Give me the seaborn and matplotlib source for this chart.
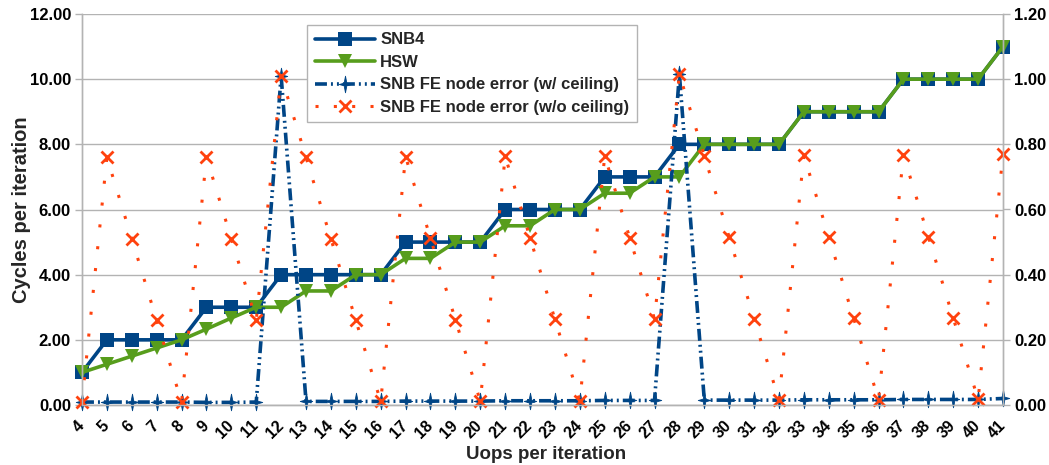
import matplotlib
matplotlib.use("Agg")
import matplotlib.pyplot as plt
import seaborn as sns
import pandas as pd
from matplotlib.lines import Line2D
from matplotlib.path import Path

# ---------------- data ----------------
uops = list(range(4, 42))
snb4 = [1, 2, 2, 2, 2, 3, 3, 3, 4, 4, 4, 4, 4, 5, 5, 5, 5, 6, 6, 6, 6, 7, 7, 7,
        8, 8, 8, 8, 8, 9, 9, 9, 9, 10, 10, 10, 10, 11]
hsw = [1, 1.25, 1.5, 1.75, 2, 2.33, 2.67, 3, 3, 3.5, 3.5, 4, 4, 4.5, 4.5, 5, 5,
       5.5, 5.5, 6, 6, 6.5, 6.5, 7, 7, 8, 8, 8, 8, 9, 9, 9, 9, 10, 10, 10, 10, 11]
err_ceil = [0.009, 0.009, 0.009, 0.009, 0.009, 0.008, 0.008, 0.009, 1.010,
            0.011, 0.011, 0.011, 0.011, 0.012, 0.012, 0.012, 0.012,
            0.013, 0.013, 0.013, 0.013, 0.014, 0.014, 0.014, 1.015,
            0.015, 0.015, 0.015, 0.015, 0.016, 0.016, 0.016, 0.016,
            0.017, 0.017, 0.017, 0.017, 0.020]
err_noceil = [0.009, 0.76, 0.51, 0.26, 0.009, 0.76, 0.51, 0.26, 1.01,
              0.76, 0.51, 0.26, 0.011, 0.762, 0.512, 0.262, 0.012,
              0.763, 0.513, 0.263, 0.013, 0.764, 0.514, 0.264, 1.015,
              0.765, 0.515, 0.265, 0.015, 0.766, 0.516, 0.266, 0.016,
              0.767, 0.517, 0.267, 0.017, 0.77]
labels = ["SNB4", "HSW", "SNB FE node error (w/ ceiling)", "SNB FE node error (w/o ceiling)"]
y_left_ticks = [0, 2, 4, 6, 8, 10, 12]
y_right_ticks = [0, 0.2, 0.4, 0.6, 0.8, 1.0, 1.2]

df = pd.DataFrame({"uops": uops, "snb4": snb4, "hsw": hsw,
                   "ceil": err_ceil, "noceil": err_noceil})

# ---------------- style ----------------
sns.set_theme(style="white")
plt.rcParams["font.family"] = ["Liberation Sans", "DejaVu Sans"]
plt.rcParams["font.weight"] = "bold"
plt.rcParams["lines.scale_dashes"] = False

BLUE = "#004586"
GREEN = "#579d1c"
ORANGE = "#ff420e"
GRID = "#b3b3b3"

# thin four-pointed star marker shape
k = 0.16
star4 = Path([(0, 1), (k, k), (0.75, 0), (k, -k), (0, -1), (-k, -k),
              (-0.75, 0), (-k, k), (0, 1)],
             [Path.MOVETO] + [Path.LINETO] * 7 + [Path.CLOSEPOLY])

fig = plt.figure(figsize=(10.49, 4.65), dpi=100)
ax = fig.add_axes([82 / 1049, 1 - 405 / 465, (1003 - 82) / 1049, (405 - 14) / 465])
ax2 = ax.twinx()

ceil_dash = (0, (8.6, 2.9, 1.4, 2.9, 1.4, 2.9))
dot_dash = (0, (2.2, 13.6))

snb_kw = dict(color=BLUE, linewidth=2.6, marker="s", markersize=10,
              markeredgewidth=0)
hsw_kw = dict(color=GREEN, linewidth=2.6, marker="v", markersize=10,
              markeredgewidth=0)
ceil_kw = dict(color=BLUE, linewidth=2.6, linestyle=ceil_dash, marker=star4,
               markersize=12, markeredgewidth=0.6, markeredgecolor=BLUE,
               markerfacecolor=BLUE)
noceil_kw = dict(color=ORANGE, linewidth=2.2, linestyle=dot_dash, marker="x",
                 markersize=9, markeredgewidth=2.0, markeredgecolor=ORANGE)

sns.lineplot(data=df, x="uops", y="snb4", ax=ax, label=labels[0],
             legend=False, clip_on=False, **snb_kw)
sns.lineplot(data=df, x="uops", y="hsw", ax=ax, label=labels[1],
             legend=False, clip_on=False, **hsw_kw)
sns.lineplot(data=df, x="uops", y="ceil", ax=ax2, label=labels[2],
             legend=False, clip_on=False, **ceil_kw)
sns.lineplot(data=df, x="uops", y="noceil", ax=ax2, label=labels[3],
             legend=False, clip_on=False, **noceil_kw)

ax.set_xlim(4, 41)
ax.set_ylim(0, 12)
ax2.set_ylim(0, 1.2)
ax.set_xticks(uops)
ax.set_xticklabels([str(u) for u in uops], rotation=45, ha="right",
                   va="center", rotation_mode="anchor", fontsize=11.5,
                   fontweight="bold")
ax.set_yticks(y_left_ticks)
ax.set_yticklabels([f"{v:.2f}" for v in y_left_ticks], fontsize=12, fontweight="bold")
ax2.set_yticks(y_right_ticks)
ax2.set_yticklabels([f"{v:.2f}" for v in y_right_ticks], fontsize=12, fontweight="bold")

ax.yaxis.grid(True, color=GRID, linewidth=1.0)
ax.xaxis.grid(False)
ax2.grid(False)
ax.set_axisbelow(True)

for a in (ax, ax2):
    a.spines["top"].set_visible(False)
    for s in ("left", "right", "bottom"):
        a.spines[s].set_color(GRID)
        a.spines[s].set_linewidth(1.0)
    a.tick_params(colors="black", length=5, width=1.0, color=GRID, direction="out")
ax.tick_params(axis="x", pad=8)
ax.tick_params(axis="y", pad=3)
ax2.tick_params(axis="y", pad=3)

ax.set_xlabel("Uops per iteration", fontsize=13.5, fontweight="bold")
ax.set_ylabel("Cycles per iteration", fontsize=14.5, fontweight="bold")
ax.xaxis.set_label_coords((546 - 82) / 921, -(463 - 405) / 391)
ax.xaxis.label.set_va("bottom")
ax.yaxis.set_label_coords(-(82 - 31) / 921, 0.5)
ax2.set_ylabel("")

handles = [
    Line2D([], [], **snb_kw),
    Line2D([], [], **hsw_kw),
    Line2D([], [], **ceil_kw),
    Line2D([], [], **{**noceil_kw, "linestyle": (0, (2.2, 11))}),
]
leg = ax2.legend(handles, labels, loc="upper left",
                 bbox_to_anchor=(307 / 1049, 1 - 25 / 465), bbox_transform=fig.transFigure,
                 borderaxespad=0, frameon=True, fancybox=False, framealpha=1,
                 edgecolor=GRID, handlelength=3.6, handletextpad=0.35,
                 labelspacing=0.45, borderpad=0.45, prop={"weight": "bold", "size": 12})
leg.get_frame().set_linewidth(1.0)

fig.savefig("out.png", dpi=100)
